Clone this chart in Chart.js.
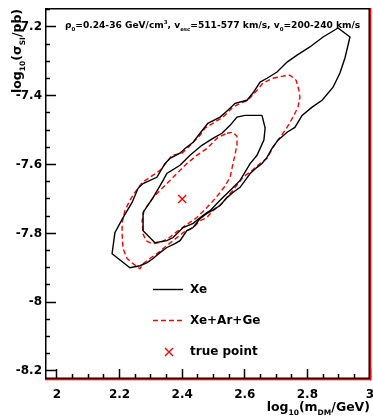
<!DOCTYPE html>
<html>
<head>
<meta charset="utf-8">
<script src="https://cdn.jsdelivr.net/npm/chart.js@4"></script>
<style>
  html, body { margin: 0; padding: 0; background: #fff; }
  #wrap { width: 373px; height: 416px; }
</style>
</head>
<body>
<div id="wrap"><canvas id="myChart" width="373" height="416"></canvas></div>
<script>
// axis ranges and tick labels
const xMin = 1.9617, xMax = 3.0;
const yMin = -8.2233, yMax = -7.1448;
const xTicks = [2, 2.2, 2.4, 2.6, 2.8, 3];
const xTickLabels = ['2', '2.2', '2.4', '2.6', '2.8', '3'];
const yTicks = [-8.2, -8, -7.8, -7.6, -7.4, -7.2];
const yTickLabels = ['-8.2', '-8', '-7.8', '-7.6', '-7.4', '-7.2'];

// contours, [log10(m_DM/GeV), log10(sigma_SI/pb)]
const xeOuter = [
  [2.898,-7.203],[2.936,-7.229],[2.920,-7.290],[2.904,-7.334],[2.882,-7.375],[2.847,-7.413],
  [2.815,-7.433],[2.783,-7.457],[2.760,-7.492],[2.735,-7.506],[2.706,-7.529],[2.687,-7.553],
  [2.671,-7.579],[2.655,-7.597],[2.639,-7.608],[2.617,-7.626],[2.585,-7.666],[2.562,-7.681],
  [2.543,-7.696],[2.521,-7.719],[2.495,-7.734],[2.479,-7.742],[2.457,-7.757],[2.435,-7.783],
  [2.415,-7.792],[2.393,-7.821],[2.377,-7.830],[2.351,-7.841],[2.329,-7.856],[2.307,-7.873],
  [2.288,-7.885],[2.265,-7.894],[2.233,-7.900],[2.176,-7.859],[2.185,-7.798],[2.211,-7.754],
  [2.240,-7.710],[2.259,-7.669],[2.275,-7.655],[2.319,-7.637],[2.345,-7.597],[2.361,-7.582],
  [2.393,-7.567],[2.409,-7.553],[2.435,-7.535],[2.457,-7.509],[2.482,-7.480],[2.521,-7.462],
  [2.546,-7.442],[2.569,-7.422],[2.607,-7.413],[2.626,-7.392],[2.649,-7.360],[2.671,-7.349],
  [2.703,-7.331],[2.735,-7.302],[2.767,-7.282],[2.808,-7.258],[2.850,-7.229]
];
const xeInner = [
  [2.655,-7.457],[2.665,-7.494],[2.661,-7.529],[2.639,-7.573],[2.617,-7.597],[2.585,-7.646],
  [2.553,-7.675],[2.521,-7.704],[2.489,-7.734],[2.466,-7.748],[2.435,-7.771],[2.403,-7.783],
  [2.371,-7.812],[2.351,-7.821],[2.313,-7.827],[2.275,-7.792],[2.275,-7.739],[2.307,-7.696],
  [2.339,-7.646],[2.351,-7.626],[2.393,-7.602],[2.425,-7.573],[2.463,-7.544],[2.498,-7.524],
  [2.527,-7.509],[2.553,-7.486],[2.575,-7.462],[2.601,-7.457]
];
const xagOuter = [
  [2.690,-7.349],[2.722,-7.343],[2.744,-7.340],[2.764,-7.355],[2.773,-7.384],[2.776,-7.404],
  [2.770,-7.433],[2.754,-7.462],[2.735,-7.492],[2.712,-7.521],[2.690,-7.550],[2.671,-7.582],
  [2.649,-7.597],[2.623,-7.617],[2.594,-7.637],[2.562,-7.675],[2.527,-7.713],[2.498,-7.734],
  [2.479,-7.754],[2.457,-7.763],[2.435,-7.783],[2.403,-7.798],[2.371,-7.821],[2.339,-7.844],
  [2.319,-7.859],[2.297,-7.873],[2.275,-7.888],[2.265,-7.903],[2.243,-7.888],[2.224,-7.873],
  [2.211,-7.844],[2.208,-7.801],[2.208,-7.769],[2.217,-7.734],[2.233,-7.704],[2.249,-7.681],
  [2.272,-7.652],[2.297,-7.637],[2.329,-7.617],[2.355,-7.588],[2.367,-7.573],[2.399,-7.567],
  [2.419,-7.550],[2.457,-7.515],[2.473,-7.494],[2.498,-7.480],[2.530,-7.462],[2.562,-7.433],
  [2.585,-7.422],[2.610,-7.413],[2.639,-7.384],[2.658,-7.363]
];
const xagInner = [
  [2.543,-7.509],[2.562,-7.506],[2.575,-7.518],[2.575,-7.544],[2.566,-7.582],[2.559,-7.611],
  [2.553,-7.637],[2.534,-7.666],[2.508,-7.696],[2.479,-7.725],[2.447,-7.754],[2.415,-7.774],
  [2.383,-7.795],[2.355,-7.815],[2.329,-7.827],[2.304,-7.830],[2.284,-7.821],[2.275,-7.801],
  [2.272,-7.763],[2.278,-7.734],[2.307,-7.696],[2.339,-7.666],[2.371,-7.637],[2.415,-7.597],
  [2.447,-7.573],[2.479,-7.553],[2.514,-7.521]
];
const truePoint = [[2.4, -7.7]];

const RED = '#ff0000';
const tickFont = { family: 'DejaVu Sans', size: 12, weight: 'bold' };
// plot frame in pixels
const AREA = { left: 45, right: 370, top: 8, bottom: 379 };

// major ticks every 0.2 with minor ticks every 0.05 in between
function withMinors(majors) {
  const out = [];
  majors.forEach((v, i) => {
    out.push({ value: v, major: true, label: i });
    if (i < majors.length - 1) {
      for (let k = 1; k < 4; k++) out.push({ value: v + (majors[i + 1] - v) * k / 4, major: false });
    }
  });
  return out;
}
const yAll = withMinors(yTicks).concat([{ value: -7.15, major: false }]);
const xAll = withMinors(xTicks);

function closed(pts) {
  return pts.concat([pts[0]]).map(p => ({ x: p[0], y: p[1] }));
}

function contour(pts, color, dash) {
  return {
    data: closed(pts),
    showLine: true,
    borderColor: color,
    borderWidth: 1.4,
    borderDash: dash,
    pointRadius: 0,
    fill: false,
    tension: 0
  };
}

// draws text with sub/superscripts, parts = [[text, 'n'|'sub'|'sup'], ...]
function drawRich(ctx, parts, x, y, size, family) {
  ctx.textBaseline = 'alphabetic';
  ctx.textAlign = 'left';
  for (const [t, k] of parts) {
    const s = k === 'n' ? size : size * 0.6;
    const dy = k === 'sub' ? size * 0.3 : (k === 'sup' ? -size * 0.45 : 0);
    ctx.font = 'bold ' + s + 'px ' + family;
    ctx.fillText(t, x, y + dy);
    x += ctx.measureText(t).width;
  }
  return x;
}

const decor = {
  id: 'decor',
  // pin the plot area to the reference frame
  afterLayout(chart) {
    const a = chart.chartArea;
    Object.assign(a, AREA);
    a.width = AREA.right - AREA.left;
    a.height = AREA.bottom - AREA.top;
    const sx = chart.scales.x, sy = chart.scales.y;
    sx.left = AREA.left; sx.right = AREA.right; sx.width = a.width;
    sx.top = AREA.bottom; sx.bottom = chart.height; sx.height = chart.height - AREA.bottom;
    sy.top = AREA.top; sy.bottom = AREA.bottom; sy.height = a.height;
    sy.left = 0; sy.right = AREA.left; sy.width = AREA.left;
    sx.configure();
    sy.configure();
  },
  afterDraw(chart) {
    const ctx = chart.ctx;
    const a = AREA;
    const w = a.right - a.left, h = a.bottom - a.top;
    ctx.save();
    ctx.setLineDash([]);

    // frame
    ctx.strokeStyle = '#000';
    ctx.lineWidth = 1.5;
    ctx.strokeRect(a.left + 0.75, a.top + 0.75, w - 1.5, h - 1.5);
    ctx.fillStyle = RED;
    ctx.fillRect(a.right, a.top, 1.3, h + 1.3);
    ctx.fillRect(a.left, a.bottom, w + 1.3, 1.3);

    ctx.fillStyle = '#000';
    // title line
    drawRich(ctx, [
      ['\u03c1', 'n'], ['0', 'sub'], ['=0.24-36 GeV/cm', 'n'], ['3', 'sup'],
      [', v', 'n'], ['esc', 'sub'], ['=511-577 km/s, v', 'n'], ['0', 'sub'],
      ['=200-240 km/s', 'n']
    ], 65, 28, 9.1, 'DejaVu Sans');

    // x axis title, right aligned
    const xParts = [['log', 'n'], ['10', 'sub'], ['(m', 'n'], ['DM', 'sub'], ['/GeV)', 'n']];
    let tw = 0;
    for (const [t, k] of xParts) {
      ctx.font = 'bold ' + (k === 'n' ? 12.5 : 7.5) + 'px DejaVu Sans';
      tw += ctx.measureText(t).width;
    }
    drawRich(ctx, xParts, 370 - tw, 411, 12.5, 'DejaVu Sans');

    // y axis title, rotated
    ctx.save();
    ctx.translate(21, 93);
    ctx.rotate(-Math.PI / 2);
    drawRich(ctx, [['log', 'n'], ['10', 'sub'], ['(\u03c3', 'n'], ['SI', 'sub'], ['/pb)', 'n']],
      0, 0, 12.5, 'DejaVu Sans');
    ctx.restore();

    // legend
    ctx.lineWidth = 1.4;
    ctx.strokeStyle = '#000';
    ctx.beginPath();
    ctx.moveTo(153, 289.5);
    ctx.lineTo(183, 289.5);
    ctx.stroke();
    ctx.strokeStyle = RED;
    ctx.setLineDash([5, 3]);
    ctx.beginPath();
    ctx.moveTo(153, 320.5);
    ctx.lineTo(183, 320.5);
    ctx.stroke();
    ctx.setLineDash([]);
    ctx.beginPath();
    ctx.moveTo(165, 348);
    ctx.lineTo(173, 356);
    ctx.moveTo(173, 348);
    ctx.lineTo(165, 356);
    ctx.stroke();
    ctx.font = 'bold 12px DejaVu Sans';
    ctx.textBaseline = 'middle';
    ctx.textAlign = 'left';
    ctx.fillStyle = '#000';
    ctx.fillText('Xe', 190, 290);
    ctx.fillText('Xe+Ar+Ge', 190, 321);
    ctx.fillText('true point', 190, 352);

    ctx.restore();
  }
};

const data = {
  datasets: [
    contour(xeOuter, '#000', []),
    contour(xeInner, '#000', []),
    contour(xagOuter, RED, [5, 3]),
    contour(xagInner, RED, [5, 3]),
    {
      data: truePoint.map(p => ({ x: p[0], y: p[1] })),
      pointStyle: 'crossRot',
      pointRadius: 5.7,
      pointBorderColor: RED,
      pointBorderWidth: 1.4,
      showLine: false
    }
  ]
};

// inward ticks: negative tick length, minor ones shortened by a dash pattern
const options = {
  responsive: false,
  devicePixelRatio: 1,
  animation: false,
  layout: { padding: { top: 8, right: 3, left: 0, bottom: 0 } },
  plugins: { legend: { display: false }, tooltip: { enabled: false } },
  scales: {
    x: {
      type: 'linear',
      min: xMin,
      max: xMax,
      grid: {
        display: true,
        drawOnChartArea: false,
        drawTicks: true,
        tickLength: -10,
        tickColor: '#000',
        tickWidth: 1.5,
        tickBorderDash: c => (xAll[c.index] && xAll[c.index].major) ? [] : [5, 30]
      },
      border: { display: false },
      ticks: {
        font: tickFont,
        color: '#000',
        padding: 19,
        maxRotation: 0,
        autoSkip: false,
        callback: (v, i) => xAll[i].major ? xTickLabels[xAll[i].label] : ''
      },
      afterBuildTicks: s => { s.ticks = xAll.map(t => ({ value: t.value })); },
      afterFit: s => { s.height = 37; }
    },
    y: {
      type: 'linear',
      min: yMin,
      max: yMax,
      grid: {
        display: true,
        drawOnChartArea: false,
        drawTicks: true,
        tickLength: -11,
        tickColor: '#000',
        tickWidth: 1.5,
        tickBorderDash: c => (yAll[c.index] && yAll[c.index].major) ? [] : [0, 6, 5, 30]
      },
      border: { display: false },
      ticks: {
        font: tickFont,
        color: '#000',
        padding: 14,
        autoSkip: false,
        callback: (v, i) => yAll[i].major ? yTickLabels[yAll[i].label] : ''
      },
      afterBuildTicks: s => { s.ticks = yAll.map(t => ({ value: t.value })); },
      afterFit: s => { s.width = 45; }
    }
  }
};

const ctx = document.getElementById('myChart').getContext('2d');
const myChart = new Chart(ctx, {
  type: 'scatter',
  data: data,
  options: options,
  plugins: [decor]
});
</script>
</body>
</html>
